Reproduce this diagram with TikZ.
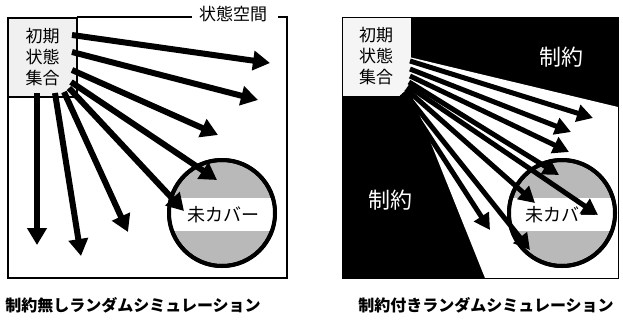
\documentclass[tikz,border=0pt]{standalone}
\usepackage{fontspec}
\newfontfamily\jp{Noto Sans CJK JP}
\usetikzlibrary{arrows.meta}
\tikzset{
  bigarrow/.style={line width=6pt,-{Triangle[length=17pt,width=19pt]}},
  midarrow/.style={line width=5pt,-{Triangle[length=16pt,width=17pt]}},
  statebox/.style={rectangle,inner sep=0pt,minimum width=69pt,minimum height=79pt,align=center,font=\jp\fontsize{17}{21}\selectfont},
  cover/.style={circle,line width=4pt,draw=black,minimum size=106pt,inner sep=0pt},
  caption/.style={font=\jp\bfseries\fontsize{16}{18}\selectfont},
}
\begin{document}
\begin{tikzpicture}[x=1pt,y=-1pt]
\useasboundingbox (0,0) rectangle (623,322);
% ---------- left panel ----------
\draw[line width=1.6pt] (192,17) -- (77,17) (8,17) -- (8,278) -- (287,278) -- (287,17) -- (278,17);
\node[font=\jp\fontsize{17}{19}\selectfont,inner sep=0pt] (space) at (233,14) {状態空間};
\node[statebox,fill=gray!12,draw=black,line width=1.6pt] (initA) at (42.5,57.5) {初期\\状態\\集合};
\node[cover,fill=gray!55] (unA) at (222,213) {};
\begin{scope}
\clip (222,213) circle (53);
\fill[white] (160,198) rectangle (285,231);
\end{scope}
\draw[line width=4pt] (unA) circle (53);
\node[font=\jp\fontsize{18}{20}\selectfont,inner sep=0pt] (unAt) at (223,215) {未カバー};
\coordinate (s1) at (72,35);  \coordinate (t1) at (270,63);
\coordinate (s2) at (72,52);  \coordinate (t2) at (258,100);
\coordinate (s3) at (72,70);  \coordinate (t3) at (218,135);
\coordinate (s4) at (71,82);  \coordinate (t4) at (217,180);
\coordinate (s5) at (69,88);  \coordinate (t5) at (184,211);
\coordinate (s6) at (64,92);  \coordinate (t6) at (128,232);
\coordinate (s7) at (55,93);  \coordinate (t7) at (81,256);
\coordinate (s8) at (37,93);  \coordinate (t8) at (37,245);
\foreach \i in {1,...,8}{\draw[bigarrow] (s\i) -- (t\i);}
\node[caption] (capA) at (133,305) {制約無しランダムシミュレーション};
% ---------- right panel ----------
\fill[black] (342,17) rectangle (618,278);
\fill[white] (409,57) -- (618,107) -- (618,278) -- (485,278) -- (412,96) -- cycle;
\node[statebox,fill=gray!8] (initB) at (376,56.5) {初期\\状態\\集合};
\node[text=white,font=\jp\fontsize{22}{24}\selectfont,inner sep=0pt] (conB1) at (561,57) {制約};
\node[text=white,font=\jp\fontsize{22}{24}\selectfont,inner sep=0pt] (conB2) at (390,200) {制約};
\node[cover,fill=gray!55] (unB) at (562,213) {};
\begin{scope}
\clip (562,213) circle (53);
\fill[white] (500,198) rectangle (625,231);
\end{scope}
\draw[line width=4pt] (unB) circle (53);
\node[font=\jp\fontsize{18}{20}\selectfont,inner sep=0pt] (unBt) at (561,215) {未カバー};
\coordinate (u1) at (410,61);  \coordinate (v1) at (593,118);
\coordinate (u2) at (410,69);  \coordinate (v2) at (571,132);
\coordinate (u3) at (410,76);  \coordinate (v3) at (569,152);
\coordinate (u4) at (409,82);  \coordinate (v4) at (559,175);
\coordinate (u5) at (408,86);  \coordinate (v5) at (598,215);
\coordinate (u6) at (406,89);  \coordinate (v6) at (535,203);
\coordinate (u7) at (404,92);  \coordinate (v7) at (530,250);
\coordinate (u8) at (402,94);  \coordinate (v8) at (490,230);
\foreach \i in {1,...,8}{\draw[midarrow] (u\i) -- (v\i);}
\draw[line width=1pt] (342,17) rectangle (618,278);
\node[caption] (capB) at (486,305) {制約付きランダムシミュレーション};
\end{tikzpicture}
\end{document}
